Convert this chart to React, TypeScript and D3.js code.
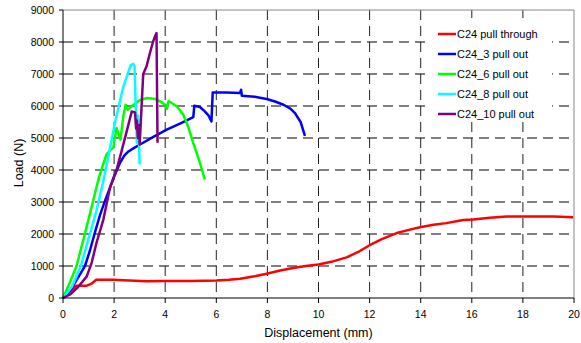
import * as React from 'react'
import * as d3 from 'd3'

const WIDTH = 581
const HEIGHT = 343
const PLOT_LEFT = 63
const PLOT_RIGHT = 574
const PLOT_TOP = 10
const PLOT_BOTTOM = 298

const X_TICKS = [0, 2, 4, 6, 8, 10, 12, 14, 16, 18, 20]
const Y_TICKS = [0, 1000, 2000, 3000, 4000, 5000, 6000, 7000, 8000, 9000]

const SERIES_NAMES = ['C24 pull through', 'C24_3 pull out', 'C24_6 pull out', 'C24_8 pull out', 'C24_10 pull out']
const SERIES_COLORS = ['#ff0000', '#0000ff', '#00ff00', '#00ffff', '#800080']

// displacement (mm) / load (N)
const pullThroughX = [0, 0.2, 0.53, 0.93, 1.1, 1.3, 1.96, 2.6, 3.27, 4, 5, 5.5, 6.0, 6.5, 6.93, 7.5, 7.97, 8.5, 9.0, 9.5, 10.0, 10.5, 11.1, 11.6, 12.0, 12.5, 13.06, 13.5, 13.97, 14.5, 15.0, 15.66, 16.06, 16.7, 17.36, 18.4, 19.2, 19.97]
const pullThroughY = [0, 150, 385, 385, 440, 572, 572, 550, 525, 530, 535, 540, 545, 570, 600, 680, 760, 860, 940, 1000, 1050, 1130, 1270, 1460, 1650, 1850, 2030, 2120, 2210, 2290, 2340, 2440, 2450, 2510, 2550, 2550, 2550, 2520]

const c3X = [0, 0.3, 0.6, 0.86, 1.06, 1.25, 1.45, 1.65, 1.84, 2.0, 2.23, 2.4, 2.56, 2.8, 3.0, 3.5, 4.06, 4.6, 5.1, 5.14, 5.36, 5.55, 5.7, 5.81, 5.86, 6.4, 6.93, 6.97, 7.0, 7.5, 7.97, 8.3, 8.63, 8.9, 9.08, 9.3, 9.47]
const c3Y = [0, 250, 650, 1000, 1500, 2050, 2600, 3050, 3450, 3800, 4220, 4450, 4580, 4700, 4790, 5020, 5260, 5460, 5650, 6010, 5970, 5830, 5700, 5520, 6425, 6420, 6410, 6510, 6320, 6290, 6220, 6140, 6040, 5920, 5780, 5500, 5070]

const c6X = [0, 0.25, 0.53, 0.95, 1.19, 1.4, 1.58, 1.7, 1.85, 1.97, 2.09, 2.25, 2.36, 2.45, 2.53, 2.7, 3.0, 3.3, 3.6, 3.85, 4.0, 4.06, 4.13, 4.3, 4.45, 4.71, 4.9, 5.1, 5.35, 5.55]
const c6Y = [0, 450, 1000, 2300, 3070, 3750, 4200, 4480, 4620, 4700, 5310, 4950, 5680, 6040, 5880, 6000, 6180, 6250, 6220, 6120, 6040, 5910, 6150, 6070, 5990, 5730, 5350, 4840, 4250, 3700]

const c8X = [0, 0.35, 0.7, 1.0, 1.3, 1.55, 1.77, 2.04, 2.36, 2.65, 2.75, 2.8, 2.86, 2.89, 2.93, 2.97, 3.0]
const c8Y = [0, 350, 1000, 1850, 2700, 3550, 4400, 5500, 6600, 7280, 7320, 7250, 5600, 4850, 5700, 5000, 4170]

const c10X = [0, 0.3, 0.6, 0.93, 1.12, 1.32, 1.58, 1.84, 2.1, 2.29, 2.5, 2.69, 2.82, 2.86, 2.89, 2.93, 2.97, 3.0, 3.14, 3.27, 3.4, 3.51, 3.6, 3.66, 3.7]
const c10Y = [0, 120, 350, 675, 1100, 1750, 2450, 3450, 4010, 4580, 5230, 5830, 5800, 5300, 5550, 5000, 5400, 4800, 7000, 7240, 7650, 7970, 8175, 8280, 4850]

const SERIES_X = [pullThroughX, c3X, c6X, c8X, c10X]
const SERIES_Y = [pullThroughY, c3Y, c6Y, c8Y, c10Y]

const FONT = 'Arial, "Liberation Sans", sans-serif'

export default function App() {
  const xScale = d3.scaleLinear().domain([0, 20]).range([PLOT_LEFT, PLOT_RIGHT])
  const yScale = d3.scaleLinear().domain([0, 9000]).range([PLOT_BOTTOM, PLOT_TOP])
  const line = d3
    .line<[number, number]>()
    .x(d => xScale(d[0]))
    .y(d => yScale(d[1]))

  return (
    <svg
      width={WIDTH}
      height={HEIGHT}
      style={{ position: 'absolute', left: 0, top: 0, background: '#fff' }}
      fontFamily={FONT}
    >
      <rect x={0} y={0} width={WIDTH} height={HEIGHT} fill="#fff" />
      {/* grid */}
      {Y_TICKS.slice(1, -1).map(t => (
        <line
          key={'gy' + t}
          x1={PLOT_LEFT}
          x2={PLOT_RIGHT}
          y1={yScale(t)}
          y2={yScale(t)}
          stroke="#000"
          strokeWidth={1}
          strokeDasharray="10,6"
        />
      ))}
      {X_TICKS.slice(1, -1).map(t => (
        <line
          key={'gx' + t}
          x1={xScale(t)}
          x2={xScale(t)}
          y1={PLOT_TOP}
          y2={PLOT_BOTTOM}
          stroke="#222"
          strokeWidth={1}
          strokeDasharray="10,6"
        />
      ))}
      {/* frame */}
      <line x1={PLOT_LEFT} x2={PLOT_RIGHT} y1={PLOT_TOP} y2={PLOT_TOP} stroke="#888" />
      <line x1={PLOT_RIGHT} x2={PLOT_RIGHT} y1={PLOT_TOP} y2={PLOT_BOTTOM} stroke="#888" />
      {/* legend box */}
      <rect x={425} y={18} width={127} height={104} fill="#fff" />
      {/* series */}
      {SERIES_X.map((xs, i) => (
        <path
          key={'s' + i}
          d={line(xs.map((x, j) => [x, SERIES_Y[i][j]] as [number, number])) || ''}
          fill="none"
          stroke={SERIES_COLORS[i]}
          strokeWidth={2.5}
          strokeLinejoin="round"
        />
      ))}
      {/* axes */}
      <line x1={PLOT_LEFT} x2={PLOT_LEFT} y1={PLOT_TOP} y2={PLOT_BOTTOM} stroke="#000" />
      <line x1={PLOT_LEFT} x2={PLOT_RIGHT} y1={PLOT_BOTTOM} y2={PLOT_BOTTOM} stroke="#000" />
      {Y_TICKS.map(t => (
        <g key={'ty' + t}>
          <line x1={PLOT_LEFT - 4} x2={PLOT_LEFT} y1={yScale(t)} y2={yScale(t)} stroke="#000" />
          <text x={PLOT_LEFT - 9} y={yScale(t) + 4} textAnchor="end" fontSize={10.5} fill="#000">
            {t}
          </text>
        </g>
      ))}
      {X_TICKS.map(t => (
        <g key={'tx' + t}>
          <line x1={xScale(t)} x2={xScale(t)} y1={PLOT_BOTTOM} y2={PLOT_BOTTOM + 5} stroke="#000" />
          <text x={xScale(t)} y={PLOT_BOTTOM + 20} textAnchor="middle" fontSize={10.5} fill="#000">
            {t}
          </text>
        </g>
      ))}
      <text x={(PLOT_LEFT + PLOT_RIGHT) / 2} y={337} textAnchor="middle" fontSize={12.5} fill="#000">
        Displacement (mm)
      </text>
      <text
        transform={`translate(23,${163}) rotate(-90)`}
        textAnchor="middle"
        fontSize={12.5}
        fill="#000"
      >
        Load (N)
      </text>
      {/* legend */}
      {SERIES_NAMES.map((name, i) => (
        <g key={'l' + i} transform={`translate(438,${34 + i * 20})`}>
          <line x1={0} x2={18} y1={0} y2={0} stroke={SERIES_COLORS[i]} strokeWidth={2.5} />
          <text x={19} y={4} fontSize={11} fill="#000">
            {name}
          </text>
        </g>
      ))}
    </svg>
  )
}
